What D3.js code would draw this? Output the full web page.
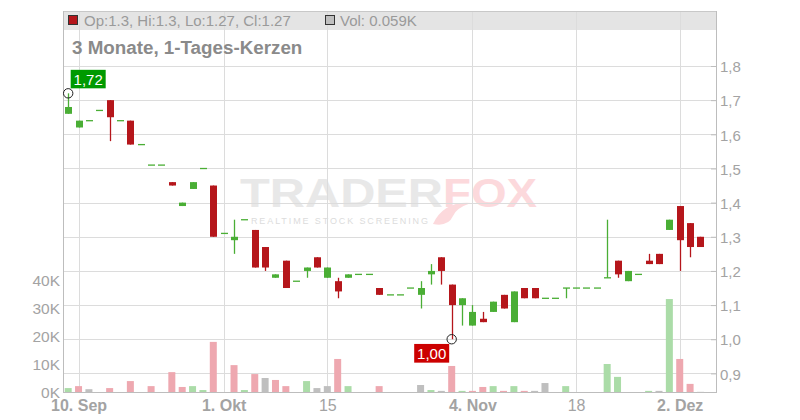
<!DOCTYPE html>
<html><head><meta charset="utf-8">
<script src="https://cdn.jsdelivr.net/npm/d3@7"></script>
<style>body{margin:0;background:#fff}svg{display:block;font-family:"Liberation Sans",Arial,sans-serif}</style>
</head><body><svg id="c" width="800" height="420"></svg>
<script>
// ---- data (one entry per trading day, index 0..61) ----
const openP  = [1.66,1.62,1.64,1.67,1.70,1.64,1.64,1.57,1.51,1.51,1.46,1.39,1.44,1.50,1.45,1.31,1.29,1.35,1.32,1.27,1.18,1.23,1.17,1.20,1.24,1.18,1.17,1.18,1.19,1.19,1.15,1.13,1.13,1.15,1.13,1.19,1.24,1.16,1.10,1.04,1.06,1.08,1.13,1.05,1.15,1.15,1.12,1.12,1.15,1.15,1.15,1.15,1.18,1.23,1.17,1.19,1.23,1.25,1.32,1.39,1.34,1.30];
const highP  = [1.72,1.64,1.64,1.67,1.70,1.64,1.64,1.57,1.51,1.51,1.46,1.40,1.46,1.50,1.45,1.31,1.35,1.35,1.32,1.27,1.19,1.23,1.17,1.21,1.24,1.21,1.18,1.19,1.19,1.19,1.15,1.13,1.13,1.15,1.17,1.22,1.24,1.16,1.12,1.10,1.08,1.11,1.13,1.14,1.15,1.15,1.12,1.12,1.15,1.15,1.15,1.15,1.35,1.23,1.20,1.19,1.25,1.25,1.35,1.39,1.34,1.30];
const lowP   = [1.66,1.62,1.64,1.67,1.58,1.64,1.57,1.57,1.51,1.51,1.45,1.39,1.44,1.50,1.30,1.31,1.25,1.35,1.21,1.20,1.18,1.15,1.17,1.18,1.21,1.18,1.12,1.18,1.19,1.19,1.13,1.13,1.13,1.15,1.09,1.16,1.16,1.00,1.04,1.04,1.05,1.08,1.09,1.05,1.12,1.12,1.12,1.12,1.12,1.15,1.15,1.15,1.18,1.18,1.17,1.19,1.22,1.22,1.32,1.20,1.24,1.27];
const closeP = [1.68,1.64,1.64,1.67,1.65,1.64,1.57,1.57,1.51,1.51,1.45,1.40,1.46,1.50,1.30,1.31,1.30,1.35,1.21,1.21,1.19,1.15,1.17,1.21,1.21,1.21,1.14,1.19,1.19,1.19,1.13,1.13,1.13,1.15,1.15,1.20,1.20,1.10,1.12,1.08,1.05,1.11,1.09,1.14,1.12,1.12,1.12,1.12,1.15,1.15,1.15,1.15,1.18,1.19,1.20,1.19,1.22,1.22,1.35,1.29,1.27,1.27];
const volume = [1400,2100,1000,0,1400,0,3900,0,2100,0,7100,1800,2100,700,17900,0,9600,700,6400,5000,4300,2100,0,3900,1400,2100,11800,2100,0,0,2100,0,0,0,2500,700,400,9300,400,400,1800,2100,400,2100,400,400,3200,0,2100,0,0,0,10000,5400,0,0,400,400,33200,11800,2900,59];
const tickIndex  = [1,15,25,39,49,59];
const tickLabels = ["10. Sep","1. Okt","15","4. Nov","18","2. Dez"];
const tickBold   = [true,true,false,true,false,true];
const priceTicks  = [0.9,1.0,1.1,1.2,1.3,1.4,1.5,1.6,1.7,1.8];
const volumeTicks = [0,10000,20000,30000,40000];
const maxMark = {index:0, value:1.72, label:"1,72"};
const minMark = {index:37, value:1.00, label:"1,00"};

// ---- layout ----
const L = 63, R = 716, T = 11, B = 392;
const svg = d3.select("#c");
const x  = d3.scaleLinear().domain([-0.5, 62.5]).range([L, R]);
const y  = d3.scaleLinear().domain([0.9, 1.8]).range([373.4, 66]);
const yv = d3.scaleLinear().domain([0, 40000]).range([B, 280]);

const RED = "#b5161b", GREEN = "#4aae35";
const VRED = "#eea8b0", VGREEN = "#abdca8", VGREY = "#bfbfbf";
const GRID = "#dcdcdc", AX = "#bdbdbd", TXT = "#a3a3a3";

// header bar
svg.append("rect").attr("x", L).attr("y", T).attr("width", R - L).attr("height", 19).attr("fill", "#e4e4e4");

// watermark
const wm = svg.append("g");
wm.append("text").attr("x", 240).attr("y", 207).attr("font-size", 40).attr("font-weight", "bold")
  .attr("fill", "#e8e8e8").attr("textLength", 203).attr("lengthAdjust", "spacingAndGlyphs").text("TRADER");
wm.append("text").attr("x", 443).attr("y", 207).attr("font-size", 40).attr("font-weight", "bold")
  .attr("fill", "#fcd9dc").attr("textLength", 94).attr("lengthAdjust", "spacingAndGlyphs").text("FOX");
wm.append("path").attr("d", "M433,224 Q444,201 471,203 Q456,208 453,216 Q448,227 433,224 Z").attr("fill", "#fcd9dc");
wm.append("text").attr("x", 251).attr("y", 224).attr("font-size", 9).attr("fill", "#dcdcdc")
  .attr("textLength", 177).attr("lengthAdjust", "spacing").text("REALTIME STOCK SCREENING");

// grid
svg.append("g").selectAll("line").data(priceTicks).join("line")
  .attr("x1", L).attr("x2", R).attr("y1", d => Math.round(y(d)) + 0.5).attr("y2", d => Math.round(y(d)) + 0.5)
  .attr("stroke", GRID);
svg.append("g").selectAll("line").data(tickIndex).join("line")
  .attr("y1", T).attr("y2", B).attr("x1", d => Math.round(x(d)) + 0.5).attr("x2", d => Math.round(x(d)) + 0.5)
  .attr("stroke", GRID);

// frame
svg.append("line").attr("x1", L).attr("x2", R).attr("y1", T + 0.5).attr("y2", T + 0.5).attr("stroke", "#c8c8c8");
svg.append("line").attr("x1", L + 0.5).attr("x2", L + 0.5).attr("y1", T).attr("y2", B).attr("stroke", AX);
svg.append("line").attr("x1", R + 0.5).attr("x2", R + 0.5).attr("y1", T).attr("y2", B).attr("stroke", AX);
svg.append("line").attr("x1", L).attr("x2", R + 1).attr("y1", B + 0.5).attr("y2", B + 0.5).attr("stroke", AX);

// volume bars
const idx = d3.range(openP.length);
const volColor = i => {
  if (i === 0) return VGREEN;
  const d = Math.round(closeP[i] * 100) - Math.round(closeP[i - 1] * 100);
  return d > 0 ? VGREEN : d < 0 ? VRED : VGREY;
};
const bw = 7;
svg.append("g").selectAll("rect").data(idx.filter(i => volume[i] > 0)).join("rect")
  .attr("x", i => x(i) - bw / 2).attr("width", bw)
  .attr("y", i => yv(volume[i])).attr("height", i => Math.max(0.8, B - yv(volume[i])))
  .attr("fill", volColor);

// candles
const cg = svg.append("g");
const candleColor = i => closeP[i] < openP[i] ? RED : GREEN;
cg.selectAll("line").data(idx.filter(i => highP[i] > lowP[i])).join("line")
  .attr("x1", i => Math.round(x(i)) + 0.5).attr("x2", i => Math.round(x(i)) + 0.5)
  .attr("y1", i => y(highP[i])).attr("y2", i => y(lowP[i]))
  .attr("stroke", candleColor).attr("stroke-width", 1.3);
cg.selectAll("rect").data(idx).join("rect")
  .attr("x", i => Math.round(x(i)) + 0.5 - bw / 2).attr("width", bw)
  .attr("y", i => Math.min(y(openP[i]), y(closeP[i])) - (openP[i] === closeP[i] ? 0.6 : 0))
  .attr("height", i => Math.max(1.3, Math.abs(y(openP[i]) - y(closeP[i]))))
  .attr("fill", candleColor);

// axes
const styleAxis = (g, size) => {
  g.select(".domain").remove();
  g.selectAll(".tick line").attr("stroke", AX);
  g.selectAll("text").attr("fill", TXT).attr("font-size", size).attr("font-family", '"Liberation Sans",Arial,sans-serif');
};
svg.append("g").attr("transform", `translate(${R},0)`)
  .call(d3.axisRight(y).tickValues(priceTicks).tickSize(-5).tickPadding(4).tickFormat(d => d3.format(".1f")(d).replace(".", ",")))
  .call(g => styleAxis(g, 15))
  .call(g => g.selectAll("text").attr("dy", "0.38em"));
svg.append("g").attr("transform", `translate(${L},0)`)
  .call(d3.axisLeft(yv).tickValues(volumeTicks).tickSize(0).tickPadding(3).tickFormat(d => (d / 1000) + "K"))
  .call(g => styleAxis(g, 15.5))
  .call(g => g.selectAll("text").attr("dy", "0.36em"));
svg.append("g").attr("transform", `translate(0,${B})`)
  .call(d3.axisBottom(x).tickValues(tickIndex).tickSize(0).tickPadding(8).tickFormat((d, k) => tickLabels[k]))
  .call(g => styleAxis(g, 16))
  .call(g => g.selectAll("text").attr("font-weight", (d, k) => tickBold[k] ? "bold" : "normal"));

// annotations
const mx = x(maxMark.index), my = y(maxMark.value);
svg.append("rect").attr("x", mx + 2.5).attr("y", my - 23.5).attr("width", 35).attr("height", 18.5).attr("fill", "#009a00");
svg.append("text").attr("x", mx + 20).attr("y", my - 8.5).attr("text-anchor", "middle").attr("font-size", 15)
  .attr("fill", "#fff").text(maxMark.label);
svg.append("circle").attr("cx", mx).attr("cy", my).attr("r", 4.7).attr("fill", "none").attr("stroke", "#222").attr("stroke-width", 1);

const nx = x(minMark.index), ny = y(minMark.value);
svg.append("rect").attr("x", nx - 37.5).attr("y", ny + 4.7).attr("width", 35).attr("height", 18.7).attr("fill", "#cc0000");
svg.append("text").attr("x", nx - 20).attr("y", ny + 19.5).attr("text-anchor", "middle").attr("font-size", 15)
  .attr("fill", "#fff").text(minMark.label);
svg.append("circle").attr("cx", nx).attr("cy", ny).attr("r", 4.7).attr("fill", "none").attr("stroke", "#222").attr("stroke-width", 1);

// header legend
const last = openP.length - 1;
const fmt = v => String(+v.toFixed(2));
svg.append("rect").attr("x", 68.5).attr("y", 15.5).attr("width", 9).attr("height", 9).attr("fill", candleColor(last)).attr("stroke", "#333");
svg.append("text").attr("x", 84).attr("y", 26).attr("font-size", 15).attr("fill", "#9a9a9a")
  .text(`Op:${fmt(openP[last])}, Hi:${fmt(highP[last])}, Lo:${fmt(lowP[last])}, Cl:${fmt(closeP[last])}`);
svg.append("rect").attr("x", 325.5).attr("y", 15.5).attr("width", 9).attr("height", 9).attr("fill", volColor(last)).attr("stroke", "#333");
svg.append("text").attr("x", 340).attr("y", 26).attr("font-size", 15).attr("fill", "#9a9a9a")
  .text(`Vol: ${(volume[last] / 1000).toFixed(3)}K`);

// title
svg.append("text").attr("x", 72).attr("y", 54).attr("font-size", 18.8).attr("font-weight", "bold").attr("fill", "#8a8a8a")
  .text("3 Monate, 1-Tages-Kerzen");
</script></body></html>
